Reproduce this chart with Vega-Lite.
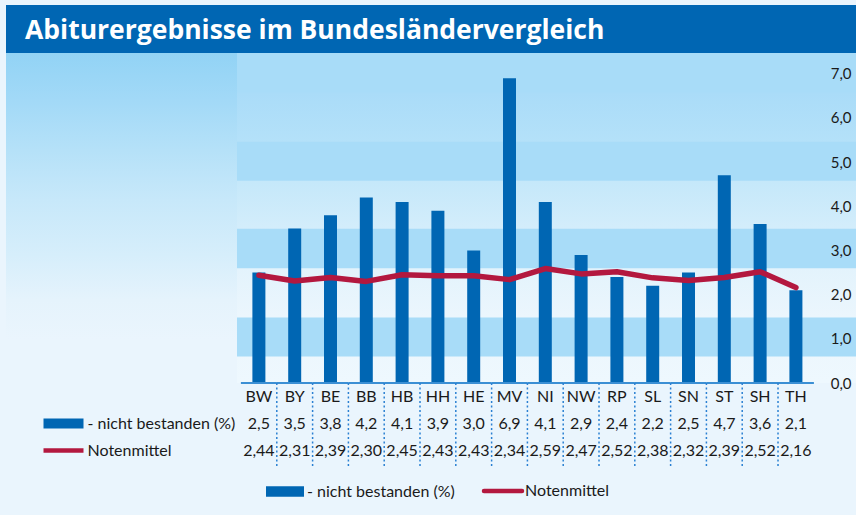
{
  "$schema": "https://vega.github.io/schema/vega-lite/v6.json",
  "background": "#eaf5fd",
  "padding": {"left": 6, "top": 5, "right": 0, "bottom": 15},
  "config": {
    "locale": {"number": {"decimal": ",", "thousands": ".", "grouping": [3], "currency": ["", " €"]}},
    "view": {"stroke": null},
    "concat": {"spacing": 0},
    "text": {"font": "Lato"},
    "axis": {"labelFont": "Lato"},
    "legend": {"labelFont": "Lato"}
  },
  "datasets": {
    "laender": [
      {"land": "BW", "nicht": 2.5, "noten": 2.44},
      {"land": "BY", "nicht": 3.5, "noten": 2.31},
      {"land": "BE", "nicht": 3.8, "noten": 2.39},
      {"land": "BB", "nicht": 4.2, "noten": 2.30},
      {"land": "HB", "nicht": 4.1, "noten": 2.45},
      {"land": "HH", "nicht": 3.9, "noten": 2.43},
      {"land": "HE", "nicht": 3.0, "noten": 2.43},
      {"land": "MV", "nicht": 6.9, "noten": 2.34},
      {"land": "NI", "nicht": 4.1, "noten": 2.59},
      {"land": "NW", "nicht": 2.9, "noten": 2.47},
      {"land": "RP", "nicht": 2.4, "noten": 2.52},
      {"land": "SL", "nicht": 2.2, "noten": 2.38},
      {"land": "SN", "nicht": 2.5, "noten": 2.32},
      {"land": "ST", "nicht": 4.7, "noten": 2.39},
      {"land": "SH", "nicht": 3.6, "noten": 2.52},
      {"land": "TH", "nicht": 2.1, "noten": 2.16}
    ],
    "baender": [
      {"von": 0.6, "bis": 1.48},
      {"von": 2.6, "bis": 3.49},
      {"von": 4.58, "bis": 5.46},
      {"von": 6.57, "bis": 7.47}
    ],
    "titel": [{"text": "Abiturergebnisse im Bundesländervergleich"}]
  },
  "spacing": 0,
  "bounds": "flush",
  "vconcat": [
    {
      "width": 850,
      "height": 48,
      "view": {"fill": "#0066b3", "stroke": null},
      "data": {"name": "titel"},
      "mark": {"type": "text", "align": "left", "baseline": "middle", "dx": 19, "dy": 2, "font": "Open Sans", "fontSize": 26.5, "fontWeight": "bold", "color": "#ffffff"},
      "encoding": {
        "x": {"field": "text", "type": "nominal", "scale": {"type": "point", "padding": 0, "align": 0}, "axis": null},
        "text": {"field": "text"}
      }
    },
    {
      "spacing": 0,
      "bounds": "flush",
      "hconcat": [
        {
          "width": 231,
          "height": 415,
          "data": {"name": "titel"},
          "mark": {
            "type": "rect",
            "color": {
              "gradient": "linear", "x1": 0, "y1": 0, "x2": 0, "y2": 1,
              "stops": [
                {"offset": 0, "color": "#92d3f5"},
                {"offset": 0.113, "color": "#a2d9f7"},
                {"offset": 0.234, "color": "#b5e1f8"},
                {"offset": 0.354, "color": "#c7e8fa"},
                {"offset": 0.487, "color": "#d6eefb"},
                {"offset": 0.595, "color": "#e5f3fc"},
                {"offset": 0.69, "color": "#eaf5fd"},
                {"offset": 1, "color": "#eaf5fd"}
              ]
            }
          },
          "encoding": {}
        },
        {
          "spacing": 0,
          "bounds": "flush",
          "vconcat": [
            {
              "width": 619,
              "height": 330,
              "layer": [
                {
                  "data": {"name": "titel"},
                  "mark": {
                    "type": "rect",
                    "color": {
                      "gradient": "linear", "x1": 0, "y1": 0, "x2": 0, "y2": 1,
                      "stops": [
                        {"offset": 0, "color": "#a6daf7"},
                        {"offset": 0.12, "color": "#aadcf8"},
                        {"offset": 0.27, "color": "#b4e1f9"},
                        {"offset": 0.39, "color": "#c5e8fa"},
                        {"offset": 0.53, "color": "#d3edfb"},
                        {"offset": 0.65, "color": "#e3f3fc"},
                        {"offset": 0.8, "color": "#ebf6fd"},
                        {"offset": 1, "color": "#eef8fe"}
                      ]
                    }
                  },
                  "encoding": {}
                },
                {
                  "data": {"name": "baender"},
                  "mark": {"type": "rect", "color": "#a8dcf8"},
                  "encoding": {
                    "y": {"field": "von", "type": "quantitative"},
                    "y2": {"field": "bis"}
                  }
                },
                {
                  "data": {"name": "laender"},
                  "mark": {"type": "bar"},
                  "encoding": {
                    "x": {
                      "field": "land", "type": "nominal",
                      "scale": {
                        "domain": ["BW","BY","BE","BB","HB","HH","HE","MV","NI","NW","RP","SL","SN","ST","SH","TH"],
                        "paddingInner": 0.637, "paddingOuter": 0.9635, "align": 0.2232
                      },
                      "axis": null
                    },
                    "y": {
                      "field": "nicht", "type": "quantitative",
                      "scale": {"domain": [0, 7.47], "nice": false, "zero": false},
                      "axis": {
                        "orient": "right", "values": [0, 1, 2, 3, 4, 5, 6, 7], "format": ".1f",
                        "title": null, "domain": false, "ticks": false, "grid": false, "zindex": 2,
                        "labelAlign": "right", "labelPadding": -5,
                        "labelFontSize": 15, "labelColor": "#1a1a1a"
                      }
                    },
                    "color": {
                      "datum": "- nicht bestanden (%)", "type": "nominal",
                      "scale": {"domain": ["- nicht bestanden (%)", "Notenmittel"], "range": ["#0066b3", "#b3183f"]},
                      "legend": {
                        "title": null, "orient": "none", "legendX": 271, "legendY": 478,
                        "direction": "horizontal", "symbolSize": 1444,
                        "labelFontSize": 16, "labelColor": "#1a1a1a", "labelOffset": 14,
                        "columnPadding": 20, "padding": 0,
                        "encode": {
                          "symbols": {
                            "update": {
                              "shape": {"signal": "datum.value === 'Notenmittel' ? 'stroke' : 'M-1,-0.27H1V0.27H-1Z'"},
                              "fill": {"signal": "datum.value === 'Notenmittel' ? 'transparent' : '#0066b3'"},
                              "stroke": {"signal": "datum.value === 'Notenmittel' ? '#b3183f' : '#0066b3'"},
                              "strokeWidth": {"signal": "datum.value === 'Notenmittel' ? 4.5 : 0"},
                              "strokeCap": {"value": "round"},
                              "opacity": {"value": 1}
                            }
                          }
                        }
                      }
                    }
                  }
                },
                {
                  "data": {"name": "laender"},
                  "mark": {"type": "line", "strokeWidth": 5.5, "strokeCap": "round", "strokeJoin": "round"},
                  "encoding": {
                    "x": {"field": "land", "type": "nominal"},
                    "y": {"field": "noten", "type": "quantitative"},
                    "color": {"datum": "Notenmittel", "type": "nominal"}
                  }
                },
                {
                  "data": {"name": "laender"},
                  "mark": {"type": "tick", "orient": "horizontal", "thickness": 2, "size": 36, "color": "#3b8fd4", "opacity": 1},
                  "encoding": {
                    "x": {"field": "land", "type": "nominal"},
                    "y": {"datum": 0, "type": "quantitative"}
                  }
                }
              ]
            },
            {
              "width": 619,
              "height": 85,
              "data": {"name": "laender"},
              "layer": [
                {
                  "transform": [{"filter": "datum.land !== 'BW'"}],
                  "mark": {"type": "rule", "color": "#2a80d2", "strokeWidth": 1.5, "strokeDash": [2, 2.5]},
                  "encoding": {
                    "x": {
                      "field": "land", "type": "nominal", "bandPosition": 0,
                      "scale": {
                        "domain": ["BW","BY","BE","BB","HB","HH","HE","MV","NI","NW","RP","SL","SN","ST","SH","TH"],
                        "paddingInner": 0, "paddingOuter": 0.645, "align": 0.0866
                      },
                      "axis": null
                    }
                  }
                },
                {
                  "mark": {"type": "text", "fontSize": 16, "color": "#1a1a1a", "baseline": "middle"},
                  "encoding": {
                    "x": {"field": "land", "type": "nominal"},
                    "text": {"field": "land"},
                    "y": {
                      "datum": "Land", "type": "nominal", "bandPosition": 0.5,
                      "scale": {"type": "band", "domain": ["Land", "- nicht bestanden (%)", "Notenmittel"], "paddingInner": 0, "paddingOuter": 0.0655, "align": 0},
                      "axis": {
                        "orient": "left", "offset": 154, "title": null, "domain": false, "grid": false,
                        "bandPosition": 0.5,
                        "ticks": true, "tickSize": 40,
                        "tickWidth": {"condition": {"test": "datum.value === 'Notenmittel'", "value": 4.5}, "value": 10},
                        "tickColor": {"condition": [{"test": "datum.value === 'Land'", "value": "transparent"}, {"test": "datum.value === 'Notenmittel'", "value": "#b3183f"}], "value": "#0066b3"},
                        "labelAlign": "left", "labelPadding": -44, "labelFontSize": 16, "labelColor": "#1a1a1a",
                        "labelExpr": "datum.value === 'Land' ? '' : datum.label"
                      }
                    }
                  }
                },
                {
                  "mark": {"type": "text", "fontSize": 16, "color": "#1a1a1a", "baseline": "middle"},
                  "encoding": {
                    "x": {"field": "land", "type": "nominal"},
                    "text": {"field": "nicht", "format": ".1f"},
                    "y": {"datum": "- nicht bestanden (%)", "type": "nominal", "bandPosition": 0.5}
                  }
                },
                {
                  "mark": {"type": "text", "fontSize": 16, "color": "#1a1a1a", "baseline": "middle"},
                  "encoding": {
                    "x": {"field": "land", "type": "nominal"},
                    "text": {"field": "noten", "format": ".2f"},
                    "y": {"datum": "Notenmittel", "type": "nominal", "bandPosition": 0.5}
                  }
                }
              ]
            }
          ]
        }
      ]
    }
  ]
}
